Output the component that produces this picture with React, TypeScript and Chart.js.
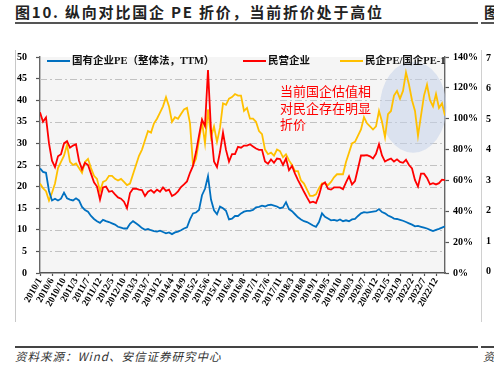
import { useEffect, useRef } from 'react';
import { Chart, registerables } from 'chart.js';

Chart.register(...registerables);

// ---------- data ----------
const xLabels = [
  '2010/1', '2010/6', '2010/10', '2011/3', '2011/7', '2011/12', '2012/5', '2012/10',
  '2013/3', '2013/7', '2013/12', '2014/4', '2014/9', '2015/2', '2015/6', '2015/11',
  '2016/4', '2016/8', '2017/1', '2017/6', '2017/11', '2018/3', '2018/8', '2019/1',
  '2019/5', '2019/10', '2020/3', '2020/7', '2020/12', '2021/5', '2021/9', '2022/2',
  '2022/7', '2022/12',
];
// points between two labelled ticks
const pointsPerLabel = 4;

// 国有企业PE（整体法，TTM）
const soePE = [
  24.2, 23.4, 23.2, 19, 16.8, 17.2, 16.8, 17.2, 18.6, 17.3, 17.0, 16.8, 17.3, 16.8, 15.3, 14.6,
  14.2, 13.2, 12.5, 12.0, 11.6, 12.3, 12.0, 11.8, 11.5, 11.2, 10.7, 10.5, 10.3, 10.3, 11.4, 12.0,
  11.5, 11.0, 10.4, 10.0, 10.2, 9.9, 9.7, 9.6, 9.8, 9.5, 9.2, 9.4, 9.0, 9.4, 9.6, 9.9,
  10.3, 10.6, 12.4, 13.8, 14.0, 14.6, 18.0, 19.5, 22.4, 17.0, 14.5, 13.6, 15.4, 15.0, 14.4, 12.4,
  12.6, 13.2, 13.2, 13.8, 14.2, 14.4, 14.4, 14.6, 15.2, 15.3, 15.6, 15.4, 15.7, 15.8, 15.6, 15.4,
  15.0, 15.2, 16.4, 14.8, 14.3, 13.6, 12.9, 12.4, 12.0, 11.8, 11.4, 11.0, 10.7, 11.8, 13.8, 13.0,
  12.6, 12.2, 12.3, 12.1, 12.4, 12.0, 12.2, 12.0, 12.4, 12.5, 13.2, 13.8, 14.1, 14.0, 14.1, 14.2,
  14.3, 14.8, 14.1, 13.8, 13.3, 13.0, 12.6, 12.5, 12.3, 12.1, 11.8, 11.5, 11.2, 10.8, 10.9, 10.7,
  10.5, 10.3, 10.0, 9.7, 10.0, 10.2, 10.5, 10.8,
];

// 民营企业
const privatePE = [
  37.2, 35, 36, 30, 26, 24.5, 27, 27.5, 30, 30.5, 29, 29.5, 29.8, 26, 24, 25.5,
  25, 23, 21, 20, 17, 19.8, 20, 18.8, 19, 18.2, 17.5, 17.2, 16.5, 15.0, 18.5, 19.5,
  19.5, 19.3, 19.2, 17.8, 18.8, 19.2, 18.6, 19.3, 18.8, 19.8, 19.0, 19.3, 17.8, 18.2, 18.9, 19.9,
  20.5, 21.2, 23.2, 24.8, 28, 31.8, 35.5, 34, 47, 33, 25.8, 24.5, 28, 32.5, 28.5, 25.8,
  27.5, 27.5, 29.2, 29, 29.5, 29.5, 29.8, 29.3, 28.8, 28.5, 28.5, 25.8, 25.3, 26.3, 25.5, 26.5,
  26.4, 25, 26.5, 23.8, 24.8, 23, 21.5, 20.2, 18.8, 17.5, 16.3, 16.5, 16.2, 18, 20.5, 21,
  19.5, 19.3, 19.8, 19.8, 19.8, 19.4, 21, 22.4, 20.5, 21.3, 24.2, 27.2, 27.2, 27.3, 27, 26.5,
  27.6, 29.8, 27.2, 25.8, 26.2, 26.5, 25.8, 26.3, 25.7, 25.5, 26.2, 25, 24.2, 21.5, 20, 23,
  23, 22, 20.5, 20.8, 20.5, 20.8, 21.6, 21.5,
];

// 民企PE/国企PE-1 (%)
const premiumPct = [
  58, 55, 53, 47, 52, 58, 68, 72, 76, 83, 72, 70, 71, 68, 65, 72,
  74, 68, 63, 61, 53, 59, 60, 63, 63, 61, 60, 61, 59, 57, 58, 64,
  70, 76, 80, 86, 92, 91, 97, 100, 104, 108, 114, 108, 98, 101, 100, 103,
  106, 107, 97, 70, 74, 86, 98, 84, 106, 88, 95, 85, 94, 110, 109, 113,
  114, 116, 115, 115, 105, 107, 100, 100, 98, 92, 90, 80, 77, 78, 76, 80,
  79, 75, 77, 73, 70, 66, 66, 60, 58, 54, 50, 50, 51, 55, 58, 58,
  57, 59, 62, 64, 64, 64, 72, 78, 84, 85, 89, 93, 101, 97, 95, 93,
  95, 105, 98, 88, 103, 105, 115, 118, 113, 118, 130, 122, 112, 105, 89, 102,
  115, 122, 112, 108, 116, 107, 110, 102,
];

const leftTicks = [0, 5, 10, 15, 20, 25, 30, 35, 40, 45, 50];
const rightTicks = [0, 20, 40, 60, 80, 100, 120, 140];

const seriesNames = ['国有企业PE（整体法，TTM）', '民营企业', '民企PE/国企PE-1'];
const seriesColors = ['#0070C0', '#FF0000', '#FFC000'];

const titleText = '图10. 纵向对比国企 PE 折价，当前折价处于高位';
const sourceText = '资料来源：Wind、安信证券研究中心';
const noteLines = ['当前国企估值相', '对民企存在明显', '折价'];
// highlighted region (x index range, right-axis % range)
const highlightX = [113.3, 135.5];
const highlightPct = [78, 137];
// neighbouring (cut-off) chart's axis labels at the right edge
const neighbourTicks = ['7', '6', '5', '4', '3', '2', '1', '0'];

const SERIF = '"Liberation Serif", "Times New Roman", serif';
const CJK = '"Noto Sans CJK SC", "Noto Sans", sans-serif';

export default function App() {
  const ref = useRef<HTMLCanvasElement | null>(null);

  useEffect(() => {
    const canvas = ref.current;
    if (!canvas) return;
    const pts = (arr: number[]) => arr.map((y, i) => ({ x: i, y }));
    const lastIndex = soePE.length - 1;

    const decor = {
      id: 'decor',
      beforeDraw(chart: any) {
        const { ctx, chartArea: a } = chart;
        ctx.save();
        ctx.fillStyle = '#f5f5f5';
        ctx.fillRect(a.left, a.top, a.right - a.left, a.bottom - a.top);
        ctx.restore();
      },
      beforeDatasetsDraw(chart: any) {
        const { ctx, chartArea: a, scales } = chart;
        ctx.save();
        ctx.strokeStyle = '#c2c2c2';
        ctx.lineWidth = 1.2;
        ctx.setLineDash([7, 3, 2, 3]);
        leftTicks.forEach((t) => {
          if (t <= 0 || t >= 50) return;
          const y = Math.round(scales.y.getPixelForValue(t)) + 0.5;
          ctx.beginPath();
          ctx.moveTo(a.left, y);
          ctx.lineTo(a.right, y);
          ctx.stroke();
        });
        ctx.setLineDash([]);
        const x0 = scales.x.getPixelForValue(highlightX[0]);
        const x1 = scales.x.getPixelForValue(highlightX[1]);
        const y0 = scales.y1.getPixelForValue(highlightPct[0]);
        const y1 = scales.y1.getPixelForValue(highlightPct[1]);
        ctx.beginPath();
        ctx.ellipse((x0 + x1) / 2, (y0 + y1) / 2, (x1 - x0) / 2, (y0 - y1) / 2, 0, 0, Math.PI * 2);
        ctx.fillStyle = 'rgba(196,209,234,0.55)';
        ctx.fill();
        ctx.restore();
      },
    };

    const tickFont = { family: SERIF, size: 10, weight: 'bold' as const };

    const chart = new Chart(canvas, {
      type: 'line',
      data: {
        datasets: [
          { label: seriesNames[0], data: pts(soePE), borderColor: seriesColors[0], yAxisID: 'y' },
          { label: seriesNames[1], data: pts(privatePE), borderColor: seriesColors[1], yAxisID: 'y' },
          { label: seriesNames[2], data: pts(premiumPct), borderColor: seriesColors[2], yAxisID: 'y1' },
        ],
      },
      options: {
        animation: false,
        responsive: false,
        devicePixelRatio: 1,
        layout: { padding: { top: 17, left: 0, right: 0, bottom: 0 } },
        elements: {
          point: { radius: 0, hoverRadius: 0 },
          line: { borderWidth: 1.8, tension: 0 },
        },
        plugins: { legend: { display: false }, tooltip: { enabled: false } },
        scales: {
          x: {
            type: 'linear',
            min: 0,
            max: lastIndex,
            afterBuildTicks: (scale: any) => {
              scale.ticks = xLabels.map((_, k) => ({ value: k * pointsPerLabel }));
            },
            afterFit: (scale: any) => {
              scale.height = 57;
            },
            ticks: {
              autoSkip: false,
              maxRotation: 60,
              minRotation: 60,
              padding: 0,
              color: '#000',
              font: { family: SERIF, size: 9.5, weight: 'bold' },
              callback: (v: any) => xLabels[Math.round(Number(v) / pointsPerLabel)] ?? '',
            },
            grid: { drawOnChartArea: false, drawTicks: true, tickLength: 3, tickColor: '#555', tickWidth: 1.2 },
            border: { color: '#555', width: 1.6 },
          },
          y: {
            position: 'left',
            min: 0,
            max: 50,
            afterBuildTicks: (scale: any) => {
              scale.ticks = leftTicks.map((v) => ({ value: v }));
            },
            afterFit: (scale: any) => {
              scale.width = 40;
            },
            ticks: { padding: 9, color: '#000', font: tickFont },
            grid: { drawOnChartArea: false, drawTicks: true, tickLength: 4, tickColor: '#555', tickWidth: 1.2 },
            border: { color: '#666', width: 1.4 },
          },
          y1: {
            position: 'right',
            min: 0,
            max: 140,
            afterBuildTicks: (scale: any) => {
              scale.ticks = rightTicks.map((v) => ({ value: v }));
            },
            afterFit: (scale: any) => {
              scale.width = 49;
            },
            ticks: { padding: 4, color: '#000', font: tickFont, callback: (v: any) => `${v}%` },
            grid: { drawOnChartArea: false, drawTicks: true, tickLength: 4, tickColor: '#555', tickWidth: 1.2 },
            border: { color: '#666', width: 1.4 },
          },
        },
      },
      plugins: [decor],
    } as any);
    return () => chart.destroy();
  }, []);

  const legendLeft = [47, 243, 340];

  return (
    <div style={{ position: 'absolute', left: 0, top: 0, width: 494, height: 370, background: '#fff', overflow: 'hidden' }}>
      {/* title */}
      <div style={{ position: 'absolute', left: 15, top: 2, fontFamily: CJK, fontWeight: 700, fontSize: 15, color: '#222', letterSpacing: 1.8, whiteSpace: 'nowrap', lineHeight: '20px' }}>
        {titleText}
      </div>
      <div style={{ position: 'absolute', left: 484, top: 2, fontFamily: CJK, fontWeight: 700, fontSize: 15, color: '#222', lineHeight: '20px' }}>图</div>
      <div style={{ position: 'absolute', left: 15, top: 22, width: 463, height: 2, background: '#555' }} />
      <div style={{ position: 'absolute', left: 481, top: 22, width: 13, height: 2, background: '#555' }} />

      {/* frame side lines */}
      <div style={{ position: 'absolute', left: 15, top: 50, width: 1, height: 272, background: '#c8c8c8' }} />
      <div style={{ position: 'absolute', left: 481, top: 50, width: 1, height: 272, background: '#d0d0d0' }} />

      <canvas ref={ref} width={494} height={290} style={{ position: 'absolute', left: 0, top: 40, width: 494, height: 290 }} />

      {/* legend */}
      {seriesNames.map((name, k) => (
        <div key={name} style={{ position: 'absolute', left: legendLeft[k], top: 54, height: 14, display: 'flex', alignItems: 'center', whiteSpace: 'nowrap' }}>
          <span style={{ display: 'inline-block', width: 23, height: 2, background: seriesColors[k], marginRight: 2 }} />
          <span style={{ fontFamily: `${SERIF.split(',')[0]}, ${CJK}`, fontWeight: 700, fontSize: 10.5, color: '#111', lineHeight: '14px' }}>{name}</span>
        </div>
      ))}

      {/* annotation */}
      <div style={{ position: 'absolute', left: 280, top: 83, fontFamily: CJK, fontSize: 13, color: '#ff0000', lineHeight: '16.5px', letterSpacing: 0 }}>
        {noteLines.map((l) => (
          <div key={l}>{l}</div>
        ))}
      </div>

      {/* neighbouring chart's labels (cut off at the edge) */}
      {neighbourTicks.map((t, k) => (
        <div key={t} style={{ position: 'absolute', left: 486, top: 52 + k * 30.43, fontFamily: SERIF, fontWeight: 700, fontSize: 10, lineHeight: '12px', color: '#000' }}>{t}</div>
      ))}

      {/* source */}
      <div style={{ position: 'absolute', left: 15, top: 346, width: 463, height: 1.5, background: '#444' }} />
      <div style={{ position: 'absolute', left: 481, top: 346, width: 13, height: 1.5, background: '#444' }} />
      <div style={{ position: 'absolute', left: 15, top: 348, fontFamily: CJK, fontStyle: 'italic', fontSize: 11.5, color: '#333', letterSpacing: 1, whiteSpace: 'nowrap', lineHeight: '16px' }}>
        {sourceText}
      </div>
      <div style={{ position: 'absolute', left: 483, top: 348, fontFamily: CJK, fontStyle: 'italic', fontSize: 11.5, color: '#333', lineHeight: '16px' }}>资</div>
    </div>
  );
}
